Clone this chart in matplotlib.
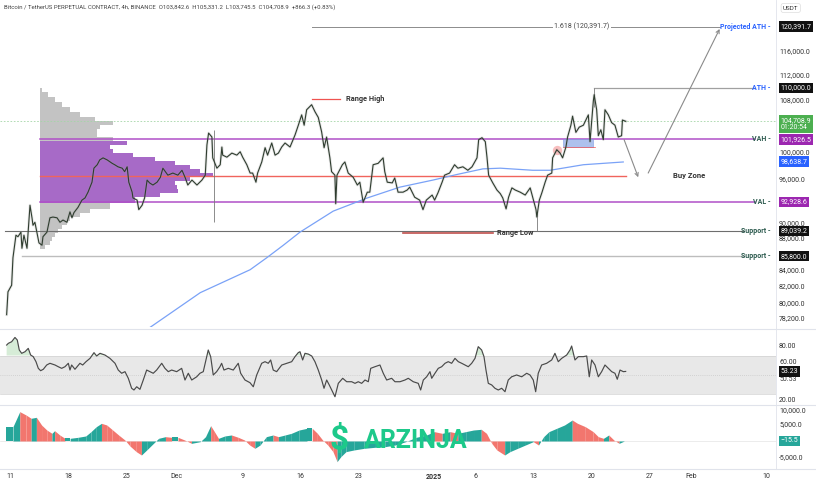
import matplotlib
matplotlib.use("Agg")
import numpy as np
import matplotlib.pyplot as plt
from matplotlib.lines import Line2D
from matplotlib.patches import Rectangle

plt.rcParams['font.family'] = ['Roboto', 'DejaVu Sans']


# 1. Data (days counted from 11 Nov 2024, prices in thousands of USDT)
price_days = [-0.4, -0.24, 0.2, 0.36, 0.72, 0.96, 1.32, 1.44, 1.68, 2.05,
              2.41, 2.65, 2.77, 3.0, 3.25, 3.49, 3.85, 3.97, 4.45, 4.81,
              5.17, 5.66, 6.02, 6.38, 6.86, 7.22, 7.46, 7.70, 8.18, 8.66,
              9.03, 9.39, 9.87, 10.1, 10.5, 10.8, 11.2, 11.7, 12.3, 12.6,
              13.0, 13.5, 13.8, 14.1, 14.3, 14.7, 14.8, 15.3, 15.5, 15.9,
              16.2, 16.5, 16.8, 17.2, 17.7, 18.1, 18.4, 19.0, 19.6, 20.2,
              20.7, 21.1, 21.4, 21.9, 22.5, 23.1, 23.5, 23.7, 23.9, 24.3,
              24.4, 24.9, 25.3, 25.5, 25.6, 26.1, 26.7, 27.3, 27.7, 28.0,
              28.5, 28.9, 29.2, 29.6, 29.8, 30.3, 30.7, 31.0, 31.5, 31.9,
              32.3, 32.7, 33.1, 33.7, 34.3, 34.7, 35.1, 35.4, 35.7, 36.3,
              36.7, 37.1, 37.5, 37.8, 38.1, 38.5, 38.7, 39.1, 39.2, 39.35,
              40.0, 40.3, 40.7, 41.3, 41.8, 42.1, 42.5, 43.0, 43.3, 43.7,
              44.3, 44.9, 45.1, 45.4, 46.0, 46.3, 46.7, 47.3, 47.8, 48.1,
              48.7, 49.3, 49.7, 50.1, 50.4, 50.8, 51.1, 51.5, 52.0, 52.3,
              52.9, 53.5, 53.9, 54.5, 55.1, 55.6, 56.2, 56.4, 56.8, 57.2,
              57.4, 57.6, 58.1, 58.6, 59.0, 59.3, 59.7, 60.0, 60.4, 60.8,
              61.4, 62.0, 62.6, 62.9, 63.3, 63.4, 63.7, 64.0, 64.4, 64.7,
              65.2, 65.3, 65.8, 66.2, 66.5, 66.9, 67.1, 67.5, 67.7, 68.1,
              68.5, 69.0, 69.3, 69.6, 69.8, 70.2, 70.3, 70.6, 70.8, 71.1,
              71.4, 71.6, 72.0, 72.4, 72.8, 73.2, 73.6, 73.7, 74.1]
price_k = [78.7, 81.4, 82.2, 85.6, 88.5, 88.3, 88.9, 86.8, 88.5, 86.8,
           92.5, 90.8, 89.8, 90.2, 88.8, 87.5, 87.2, 88.3, 88.9, 90.8,
           90.9, 90.8, 90.2, 90.5, 90.2, 91.6, 90.8, 91.5, 92.2, 93.2,
           93.5, 94.3, 95.7, 97.7, 98.2, 98.9, 99.2, 98.9, 98.4, 98.2,
           97.9, 97.7, 97.2, 97.9, 95.7, 94.3, 93.5, 93.2, 91.9, 92.5,
           93.5, 96.0, 95.6, 95.3, 95.7, 96.4, 97.7, 96.7, 97.0, 96.7,
           97.4, 96.3, 95.3, 96.0, 95.3, 96.0, 96.7, 101.1, 102.9, 102.3,
           99.2, 97.7, 98.2, 100.8, 99.6, 99.3, 99.9, 99.6, 100.1, 99.3,
           98.2, 97.0, 97.0, 95.7, 97.0, 98.6, 100.7, 99.6, 101.4, 99.6,
           99.9, 100.8, 101.4, 100.8, 102.6, 104.1, 105.7, 104.1, 106.5, 107.3,
           106.2, 105.3, 103.1, 100.7, 102.3, 99.2, 97.2, 96.7, 92.7, 96.7,
           98.2, 98.6, 97.0, 96.4, 95.3, 95.7, 92.9, 94.3, 94.3, 98.2,
           98.4, 99.2, 97.2, 95.7, 95.6, 96.3, 94.3, 94.3, 94.6, 95.0,
           93.6, 93.2, 91.9, 93.2, 93.5, 93.9, 93.2, 94.2, 95.7, 96.7,
           97.0, 98.2, 97.7, 97.9, 97.4, 97.9, 99.2, 101.9, 102.2, 101.6,
           99.3, 96.7, 95.6, 94.6, 94.1, 93.5, 92.0, 93.6, 94.9, 94.6,
           94.3, 93.9, 94.9, 93.6, 91.9, 90.9, 93.2, 94.2, 95.7, 96.7,
           97.0, 99.2, 100.4, 99.9, 99.2, 100.8, 102.3, 104.1, 105.5, 103.0,
           103.8, 104.1, 104.9, 105.7, 101.6, 107.9, 108.9, 106.5, 102.5, 103.4,
           101.9, 106.5, 105.7, 104.5, 104.1, 102.3, 102.5, 104.9, 104.7]

# long wicks
wick_days = [24.55, 63.4, 70.3]
wick_low_k = [90.2, 89.0, 107.0]
wick_high_k = [103.3, 91.5, 110.0]

# moving average (blue)
ma_days = [16.8, 22.9, 28.9, 30.9, 32.9, 34.9, 38.9, 43.0, 46.9, 50.9,
           53.8, 56.9, 59.0, 62.9, 65.0, 69.0, 73.8]
ma_k = [77.2, 81.3, 84.1, 85.6, 87.2, 88.9, 91.7, 93.5, 95.0, 96.0,
        96.8, 97.6, 97.7, 97.4, 97.4, 98.2, 98.6]

# volume profile
profile_k = [109.7, 108.9, 108.1, 107.3, 106.5, 105.7, 104.9, 104.5, 103.8, 103.2,
             102.6, 102.0, 101.4, 100.8, 100.2, 99.6, 99.0, 98.4, 97.9, 97.3,
             96.7, 96.1, 95.6, 95.0, 94.5, 93.9, 93.4, 92.2, 91.7, 91.2,
             90.6, 90.1, 89.6, 89.0, 88.5, 88.0, 87.5, 87.0]
profile_vol = [2, 8, 15, 22, 30, 40, 55, 73, 60, 57,
               57, 73, 87, 70, 73, 93, 115, 135, 150, 160,
               173, 150, 135, 137, 138, 120, 95, 70, 50, 40,
               30, 27, 22, 18, 15, 12, 10, 5]

# key levels
last_price = 104708.9
vah = 101926.5
val = 92928.6
poc = 96650.0
ath = 110000.0
projected_ath = 120391.7
support_1 = 89039.2
support_2 = 85800.0
ma_last = 98638.7
range_high = 108200.0
range_low = 88800.0

price_ticks = [116000, 112000, 108000, 100000, 96000, 90000, 88000, 84000, 82000, 80000, 78200]

# RSI
rsi_days = [-0.40, -0.20, 0.20, 0.60, 0.88, 1.12, 1.41, 1.81, 2.20, 2.49,
            2.80, 3.13, 3.41, 3.69, 4.01, 4.42, 4.81, 5.42, 5.81, 6.22,
            6.62, 7.02, 7.22, 7.42, 7.82, 8.42, 8.75, 9.15, 9.63, 10.11,
            10.43, 10.83, 11.43, 12.03, 12.64, 13.03, 13.44, 13.84, 14.24, 14.64,
            14.92, 15.25, 15.64, 16.04, 16.45, 16.85, 17.24, 17.65, 18.26, 18.65,
            19.05, 19.46, 20.06, 20.66, 21.06, 21.46, 21.87, 22.47, 22.86, 23.26,
            23.59, 23.86, 24.15, 24.46, 24.87, 25.27, 25.47, 25.75, 26.27, 26.87,
            27.47, 27.76, 28.28, 28.88, 29.28, 29.69, 30.29, 30.69, 31.08, 31.37,
            31.68, 32.09, 32.70, 33.30, 33.90, 34.30, 34.69, 34.90, 35.22, 35.50,
            35.90, 36.31, 36.70, 37.10, 37.51, 37.79, 38.11, 38.42, 38.71, 39.11,
            39.51, 40.04, 40.52, 41.12, 41.52, 41.91, 42.32, 42.72, 43.12, 43.41,
            43.92, 44.52, 44.92, 45.33, 45.93, 46.33, 46.93, 47.53, 47.93, 48.53,
            49.13, 49.42, 49.74, 50.14, 50.54, 50.75, 51.14, 51.54, 51.95, 52.35,
            52.74, 53.15, 53.55, 53.95, 54.36, 54.75, 55.15, 55.56, 55.96, 56.35,
            56.76, 57.04, 57.28, 57.56, 57.97, 58.36, 58.76, 59.17, 59.57, 59.96,
            60.37, 60.97, 61.58, 62.18, 62.58, 62.97, 63.26, 63.57, 63.98, 64.58,
            65.19, 65.58, 65.98, 66.39, 66.99, 67.39, 67.59, 67.99, 68.39, 68.99,
            69.40, 69.71, 70.00, 70.40, 70.80, 71.20, 71.60, 72.00, 72.41, 72.80,
            73.08, 73.41, 73.81, 74.09]
rsi_vals = [81, 82.8, 84.5, 89, 86.3, 75.8, 72.3, 74, 77.5, 70.5,
            68.8, 63.5, 56.5, 54, 55.5, 60, 61.8, 60, 58.2, 56.5,
            58.2, 61.8, 54.7, 60, 55.5, 61.8, 60, 63.5, 67, 73,
            69.5, 72.3, 70.5, 67, 61.8, 54.7, 51.3, 53, 46, 35.5,
            33.7, 37.1, 34.4, 44.2, 54.7, 53, 51.3, 54.7, 61.8, 56.5,
            53, 54.7, 53, 56.5, 44.2, 51.3, 44.2, 47.6, 51.3, 53,
            65.3, 75.8, 68.8, 49.5, 53, 58.2, 61.8, 54.7, 56.5, 54.7,
            61.8, 51.3, 44.2, 41.4, 37.1, 49.5, 61.8, 63.5, 61.8, 65.3,
            54.7, 53, 60, 61.8, 63.5, 68.8, 73, 74, 65.3, 72.3,
            71.5, 69.5, 63.5, 54.7, 44.2, 35.5, 44.2, 39, 33.7, 26.6,
            40.7, 46, 42.4, 42.4, 40.7, 42.4, 40.7, 44.2, 42.4, 56.5,
            58.2, 60, 51.3, 44.2, 46, 42.4, 42.4, 44.2, 46, 42.4,
            40.7, 33.7, 44.2, 47.6, 53, 46, 51.3, 56.5, 58.2, 61.8,
            63.5, 61.8, 67, 63.5, 61.8, 60, 58.2, 61.8, 67, 79.3,
            75.8, 68.8, 54.7, 40.7, 39, 35.5, 33.7, 35.5, 31.9, 44.2,
            47.6, 49.5, 47.6, 51.3, 49.5, 44.2, 31.9, 51.3, 60, 61.8,
            65.3, 72.3, 63.5, 67, 70.5, 75.8, 80, 65.3, 68.8, 68.8,
            69.5, 47.6, 65.3, 60, 47.6, 53, 60, 56.5, 53, 51.3,
            45, 54.7, 53, 53.23]
rsi_last = 53.23
rsi_ma_last = 50.53

# MACD histogram
macd_days = [-0.46, 0.36, 1.18, 1.93, 2.55, 3.18, 3.80, 4.43, 5.05, 5.37,
             5.99, 6.62, 7.24, 8.18, 9.12, 9.75, 10.39, 11.01, 11.64, 12.26,
             13.07, 13.83, 14.44, 15.20, 15.82, 16.45, 17.27, 17.89, 18.71, 19.46,
             20.22, 21.02, 21.84, 22.90, 23.53, 24.15, 24.60, 25.09, 25.85, 26.65,
             27.47, 28.22, 28.84, 29.47, 30.10, 30.85, 31.66, 32.30, 33.10, 33.86,
             34.80, 35.74, 36.37, 36.99, 37.62, 38.24, 38.87, 39.36, 39.81, 40.43,
             41.37, 42.62, 43.87, 45.13, 46.38, 47.63, 48.88, 50.13, 51.07, 52.01,
             52.96, 53.89, 54.84, 55.78, 56.71, 57.34, 57.97, 58.59, 59.53, 60.16,
             61.09, 62.03, 62.97, 63.60, 64.22, 64.85, 65.79, 66.73, 67.66, 68.29,
             69.23, 70.18, 70.79, 71.42, 72.05, 72.67, 73.30, 73.92]
macd_vals = [4340, 4340, 8890, 7880, 6870, 7170, 4850, 3330, 2320, 3130,
             1820, 810, 810, 1110, 1520, 2830, 4340, 5350, 4850, 3540,
             1820, 300, -1520, -3230, -4240, -2730, -710, 810, 1310, 1110,
             1110, 300, -710, -200, 1310, 4650, 2830, 810, 1520, 1820,
             1110, 300, -1210, -2220, -1210, 1310, 1820, 1310, 1820, 2320,
             3330, 3840, 3840, 2320, 300, -1210, -3230, -6260, -4750, -3230,
             -2730, -2220, -1920, -1720, -1210, -200, 1110, 1820, 2830, 2320,
             2830, 2320, 2830, 3330, 3540, 2320, -710, -2730, -4240, -3230,
             -2220, -1210, -200, -1210, 1310, 2830, 3840, 4850, 6360, 5350,
             4340, 2830, 1310, 810, 1820, 300, -710, -15.5]

date_days = [0, 7, 14, 20, 28, 35, 42, 51, 56, 63, 70, 77, 82, 91]
date_labels = ["11", "18", "25", "Dec", "9", "16", "23", "2025", "6", "13", "20", "27", "Feb", "10"]


# 2. Figure and panels
W, H = 816, 487
fig = plt.figure(figsize=(W / 100, H / 100), dpi=100)
fig.patch.set_facecolor("white")


def add_panel(top, bottom):
    ax = fig.add_axes([0, 1 - bottom / H, 776 / W, (bottom - top) / H])
    ax.set_xlim(-1.2, 92.18)
    for s in ax.spines.values():
        s.set_visible(False)
    ax.set_facecolor("none")
    return ax


def clear_ticks(ax):
    ax.xaxis.set_major_locator(plt.NullLocator())
    ax.yaxis.set_major_locator(plt.NullLocator())
    ax.xaxis.set_minor_locator(plt.NullLocator())
    ax.yaxis.set_minor_locator(plt.NullLocator())


def right_text(ax, y, s, color="#333333", size=5):
    ax.text(1.004, y, s, transform=ax.get_yaxis_transform(), fontsize=size, color=color,
            va="center", ha="left", clip_on=False)


def tag(ax, y, s, bg, fg="white"):
    ax.text(1.006, y, s, transform=ax.get_yaxis_transform(), fontsize=5, color=fg,
            va="center", ha="left", linespacing=1.05, clip_on=False, zorder=10,
            bbox=dict(boxstyle="square,pad=0.25", fc=bg, ec="none"))


def level_label(ax, y, s, color):
    ax.text(0.9935, y, s + " -", transform=ax.get_yaxis_transform(), fontsize=5, color=color,
            fontweight="bold", va="center", ha="right", clip_on=False)


ax = add_panel(10, 327)
ax_rsi = add_panel(331, 404)
ax_macd = add_panel(405, 468)

# 3. Main price panel
ax.set_yscale("log")
ax.set_ylim(77280, 123400)
clear_ticks(ax)

prices = np.array(price_k) * 1000

# volume profile
levels = np.array(profile_k) * 1000
edges = np.sqrt(levels[:-1] * levels[1:])
tops = np.concatenate([[levels[0] * 1.003], edges])
bottoms = np.concatenate([edges, [levels[-1] / 1.003]])
for lv, vol, t, b in zip(levels, profile_vol, tops, bottoms):
    inside = val <= lv <= vah
    ax.barh(b, vol * 0.1203, height=t - b, left=3.6, align="edge",
            color="#a262c4" if inside else "#bdbdbd", alpha=0.95 if inside else 0.9,
            lw=0, zorder=1)

ax.axhline(last_price, color="#a5d6a7", lw=0.6, ls=(0, (2, 2)), zorder=1)
ax.plot([3.6, 89.6], [vah, vah], color="#b04fc8", lw=1.1, zorder=2)
ax.plot([3.6, 89.6], [val, val], color="#b04fc8", lw=1.1, zorder=2)
ax.plot([3.6, 74.1], [poc, poc], color="#f0645c", lw=1.0, zorder=2)
ax.plot([-0.6, 88.3], [support_1, support_1], color="#6e6e6e", lw=0.8, zorder=2)
ax.plot([1.4, 88.3], [support_2, support_2], color="#bdbdbd", lw=1.0, zorder=2)
ax.plot([70.3, 89.6], [ath, ath], color="#a0a0a0", lw=0.9, zorder=2)
ax.plot([36.3, 85.4], [projected_ath, projected_ath], color="#8c8c8c", lw=0.7, zorder=2)
ax.text(68.8, projected_ath, "1.618 (120,391.7)", fontsize=5, color="#444444",
        ha="center", va="center", zorder=3, bbox=dict(boxstyle="square,pad=0.2", fc="white", ec="none"))

# moving average
ax.plot(ma_days, np.array(ma_k) * 1000, color="#7aa2f7", lw=0.9, zorder=3)

# price path
ax.vlines(wick_days, np.array(wick_low_k) * 1000, np.array(wick_high_k) * 1000,
          color="#7a7a7a", lw=0.6, zorder=4)
ax.plot(price_days, prices, color="#9e9e9e", lw=2.0, alpha=0.25, zorder=4)
ax.plot(price_days, prices, color="#2f3d2f", lw=0.8, zorder=5)

# annotations
ax.plot([36.3, 39.7], [range_high, range_high], color="#ef5350", lw=0.9, zorder=3)
ax.text(40.4, range_high, "Range High", fontsize=5.3, fontweight="bold", color="#333333", va="center")
ax.plot([47.3, 58.1], [range_low, range_low], color="#c0504d", lw=1.2, zorder=3)
ax.text(58.6, range_low, "Range Low", fontsize=5.3, fontweight="bold", color="#333333", va="center")

ax.add_patch(Rectangle((66.5, 100800), 3.7, 1200, fc="#9fb6ea", ec="#6f8fe0", lw=0.4, alpha=0.85, zorder=3))
ax.plot([66.5, 70.4], [100800, 100800], color="#ef5350", lw=0.5, zorder=3)
ax.scatter([65.8], [100400], s=45, color="#f6a3a3", alpha=0.7, lw=0, zorder=3)

arrow = dict(arrowstyle="->", color="#8a8a8a", lw=0.8, shrinkA=0, shrinkB=0, mutation_scale=6)
ax.annotate("", xy=(75.6, 96400), xytext=(73.9, 101900), arrowprops=arrow, zorder=6)
ax.annotate("", xy=(85.4, 120000), xytext=(76.8, 97000), arrowprops=arrow, zorder=6)
ax.text(79.8, 96700, "Buy Zone", fontsize=5.5, fontweight="bold", color="#333333", va="center")

# price scale
for p in price_ticks:
    right_text(ax, p, f"{p:,.1f}")
level_label(ax, projected_ath, "Projected ATH", "#2962ff")
level_label(ax, ath, "ATH", "#2962ff")
level_label(ax, vah, "VAH", "#2d5b4f")
level_label(ax, val, "VAL", "#2d5b4f")
level_label(ax, support_1, "Support", "#2d5b4f")
level_label(ax, support_2, "Support", "#2d5b4f")
tag(ax, projected_ath, f"{projected_ath:,.1f}", "#111111")
tag(ax, ath, f"{ath:,.1f}", "#111111")
tag(ax, 104300, f"{last_price:,.1f}\n01:20:54", "#4caf50")
tag(ax, vah, f"{vah:,.1f}", "#9c27b0")
tag(ax, ma_last, f"{ma_last:,.1f}", "#2962ff")
tag(ax, val, f"{val:,.1f}", "#9c27b0")
tag(ax, support_1, f"{support_1:,.1f}", "#111111")
tag(ax, support_2, f"{support_2:,.1f}", "#111111")

# 4. RSI panel
ax_rsi.set_ylim(18.95, 95.8)
clear_ticks(ax_rsi)
ax_rsi.axhspan(30, 70, color="#e8e8e8", lw=0, zorder=0)
ax_rsi.axhline(70, color="#d2d2d2", lw=0.5)
ax_rsi.axhline(30, color="#d2d2d2", lw=0.5)
ax_rsi.axhline(50, color="#bdbdbd", lw=0.5, ls=(0, (1, 2)))
rsi_arr = np.array(rsi_vals)
ax_rsi.fill_between(rsi_days, 70, rsi_arr, where=rsi_arr > 70, interpolate=True,
                    color="#a5d6a7", alpha=0.45, lw=0)
ax_rsi.plot(rsi_days, rsi_arr, color="#4a4a4a", lw=0.85)
right_text(ax_rsi, 80, "80.00")
right_text(ax_rsi, 63, "60.00")
right_text(ax_rsi, 44.5, f"{rsi_ma_last:.2f}")
right_text(ax_rsi, 23, "20.00")
tag(ax_rsi, rsi_last, f"{rsi_last:.2f}", "#111111")

# 5. MACD panel
ax_macd.set_ylim(-8180, 10900)
clear_ticks(ax_macd)
for i in range(len(macd_days) - 1):
    rising = macd_vals[i + 1] >= macd_vals[i]
    ax_macd.fill_between(macd_days[i:i + 2], 0, macd_vals[i:i + 2],
                         color="#26a69a" if rising else "#f2766e", lw=0)
ax_macd.axhline(0, color="#dddddd", lw=0.4, zorder=0)
right_text(ax_macd, 9300, "10,000.0")
right_text(ax_macd, 5000, "5,000.0")
right_text(ax_macd, -5000, "-5,000.0")
tag(ax_macd, 0, "\u221215.5", "#26a69a")

# watermark
ax_macd.text(39.6, 300, "$", fontsize=24, fontweight="bold", color="#1dc98a", ha="center", va="center", zorder=8)
ax_macd.text(42.6, 0, "ARZINJA", fontsize=18, fontweight="bold", color="#1dc98a", ha="left", va="center", zorder=8)

# dates
for d, lab in zip(date_days, date_labels):
    ax_macd.text(d, -0.14, lab, transform=ax_macd.get_xaxis_transform(), fontsize=5,
                 color="#333333", ha="center", va="center",
                 fontweight="bold" if lab == "2025" else "normal", clip_on=False)

# 6. Frame, header and separators
sep = "#e0e3eb"
for yy in (329, 404.5, 469):
    fig.add_artist(Line2D([0, 1], [1 - yy / H] * 2, color=sep, lw=0.8, transform=fig.transFigure))
fig.add_artist(Line2D([776 / W] * 2, [1 - 469 / H, 1], color=sep, lw=0.6, transform=fig.transFigure))
fig.text(4 / W, 1 - 7 / H,
         "Bitcoin / TetherUS PERPETUAL CONTRACT, 4h, BINANCE  O103,842.6  H105,331.2  L103,745.5  C104,708.9  +866.3 (+0.83%)",
         fontsize=4.3, color="#444444", va="center")
fig.text(783 / W, 1 - 8 / H, "USDT", fontsize=4.5, color="#333333", va="center",
         bbox=dict(boxstyle="round,pad=0.3", fc="white", ec="#dddddd", lw=0.5))

fig.savefig("out.png", dpi=100, facecolor="white")
